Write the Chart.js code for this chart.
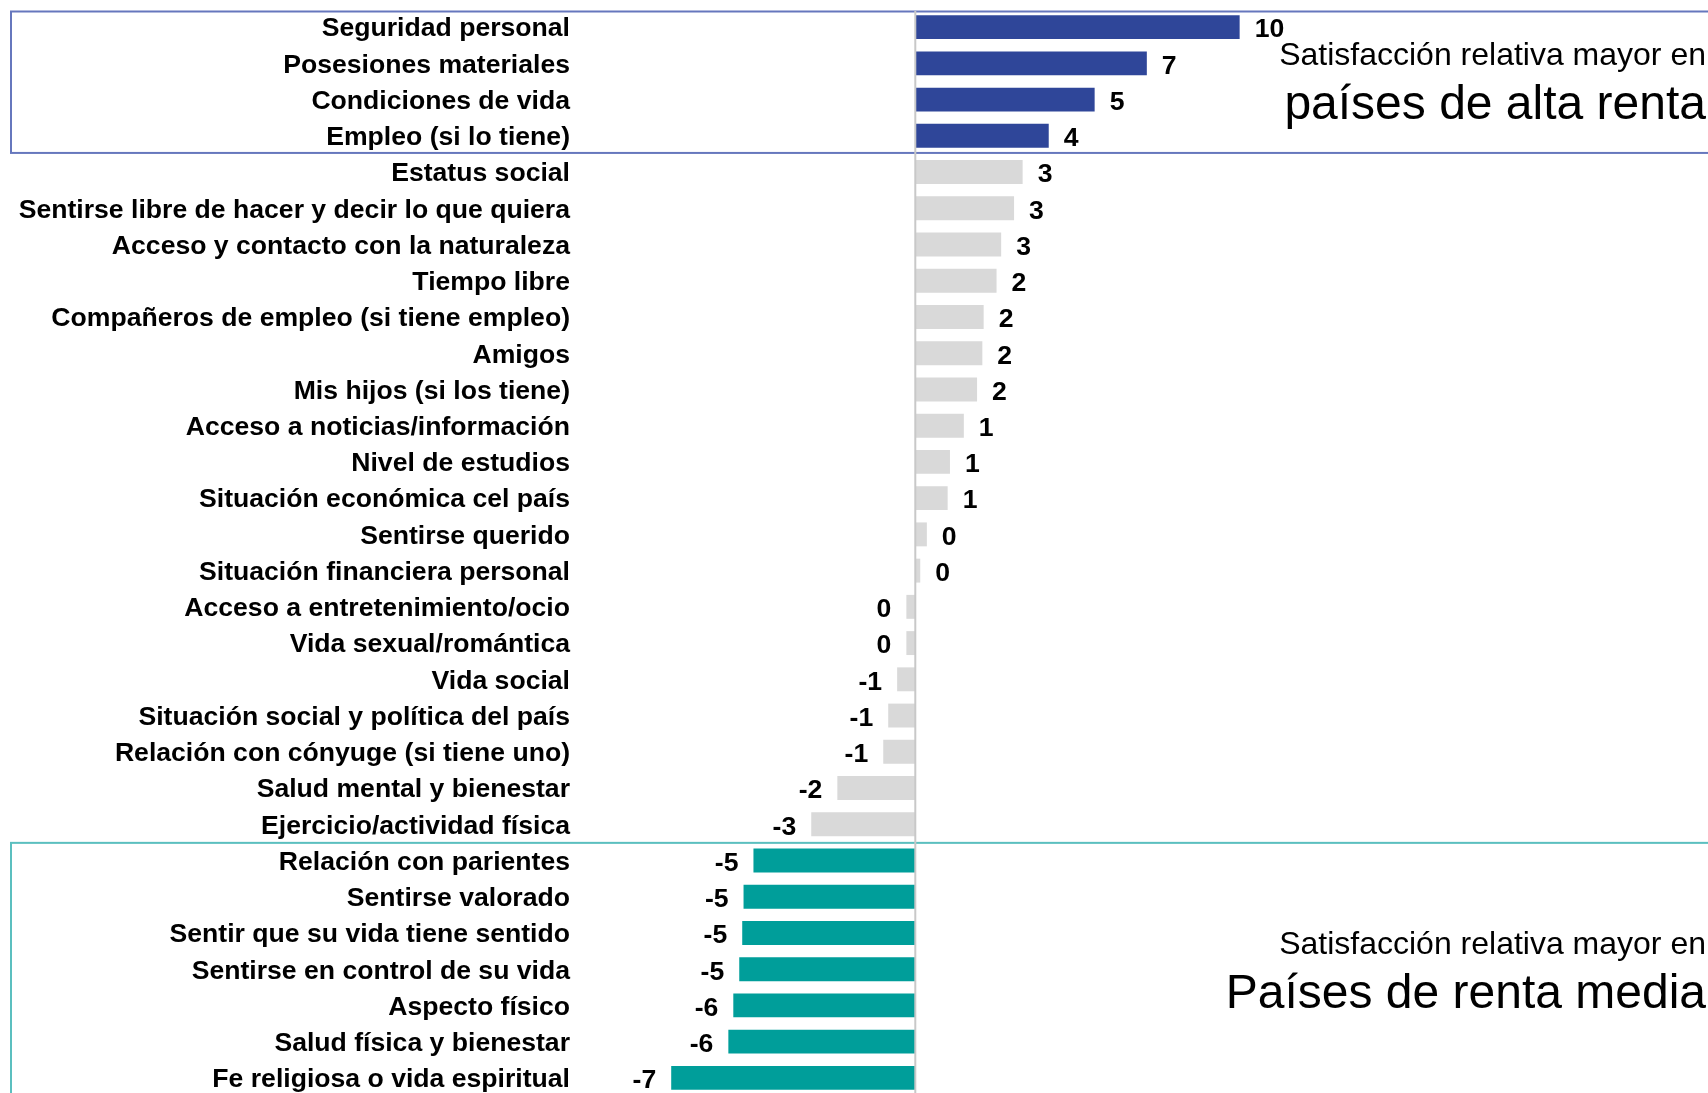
<!DOCTYPE html>
<html>
<head>
<meta charset="utf-8">
<script src="https://cdn.jsdelivr.net/npm/chart.js@4.4.1/dist/chart.umd.min.js"></script>
<style>
  html, body { margin: 0; padding: 0; background: #fff; overflow: hidden; }
  canvas { display: block; }
</style>
</head>
<body>
<canvas id="grafico" width="1708" height="1096"></canvas>
<script>
const categorias = [
    "Seguridad personal",
    "Posesiones materiales",
    "Condiciones de vida",
    "Empleo (si lo tiene)",
    "Estatus social",
    "Sentirse libre de hacer y decir lo que quiera",
    "Acceso y contacto con la naturaleza",
    "Tiempo libre",
    "Compañeros de empleo (si tiene empleo)",
    "Amigos",
    "Mis hijos (si los tiene)",
    "Acceso a noticias/información",
    "Nivel de estudios",
    "Situación económica cel país",
    "Sentirse querido",
    "Situación financiera personal",
    "Acceso a entretenimiento/ocio",
    "Vida sexual/romántica",
    "Vida social",
    "Situación social y política del país",
    "Relación con cónyuge (si tiene uno)",
    "Salud mental y bienestar",
    "Ejercicio/actividad física",
    "Relación con parientes",
    "Sentirse valorado",
    "Sentir que su vida tiene sentido",
    "Sentirse en control de su vida",
    "Aspecto físico",
    "Salud física y bienestar",
    "Fe religiosa o vida espiritual"
];

const valores = [
    9.82, 7.01, 5.43, 4.04,
    3.25, 2.99, 2.6, 2.46, 2.07, 2.03, 1.87, 1.47, 1.05, 0.98, 0.35, 0.15,
    -0.27, -0.27, -0.55, -0.82, -0.97, -2.36, -3.15,
    -4.9, -5.2, -5.24, -5.33, -5.51, -5.66, -7.39
];

// grupo de cada fila: alta renta, neutro, renta media
const grupos = [
    "alta", "alta", "alta", "alta",
    "neutro", "neutro", "neutro", "neutro", "neutro", "neutro", "neutro", "neutro",
    "neutro", "neutro", "neutro", "neutro", "neutro", "neutro", "neutro", "neutro",
    "neutro", "neutro", "neutro",
    "media", "media", "media", "media", "media", "media", "media"
];

const textoAlta = ["Satisfacción relativa mayor en", "países de alta renta"];
const textoMedia = ["Satisfacción relativa mayor en", "Países de renta media"];

const colores = { alta: "#2f4699", neutro: "#d9d9d9", media: "#009e9a" };
const fuente = '"Liberation Sans", Arial, sans-serif';

const bordeCaja = (chart, grupo, color, extra) => {
    const ctx = chart.ctx;
    const y = chart.scales.y;
    const paso = y.getPixelForValue(1) - y.getPixelForValue(0);
    const primero = grupos.indexOf(grupo);
    const ultimo = grupos.lastIndexOf(grupo);
    const arriba = y.getPixelForValue(primero) - paso / 2 + extra.top;
    const abajo = y.getPixelForValue(ultimo) + paso / 2 + extra.bottom;
    ctx.save();
    ctx.strokeStyle = color;
    ctx.lineWidth = 2;
    ctx.strokeRect(11, arriba, chart.width + 20, abajo - arriba);
    ctx.restore();
};

const cajas = {
    id: "cajas",
    beforeDatasetsDraw(chart) {
        bordeCaja(chart, "alta", "#6677bd", { top: 2.5, bottom: -1 });
        bordeCaja(chart, "media", "#5bbfbf", { top: 0.5, bottom: 40 });
    }
};

const lineaCero = {
    id: "lineaCero",
    afterDatasetsDraw(chart) {
        const ctx = chart.ctx;
        const x = chart.scales.x.getPixelForValue(0);
        ctx.save();
        ctx.strokeStyle = "#c8c8c8";
        ctx.lineWidth = 2;
        ctx.beginPath();
        ctx.moveTo(x, chart.chartArea.top + 2);
        ctx.lineTo(x, chart.height);
        ctx.stroke();
        ctx.restore();
    }
};

const etiquetas = {
    id: "etiquetas",
    afterDatasetsDraw(chart) {
        const ctx = chart.ctx;
        const barras = chart.getDatasetMeta(0).data;
        ctx.save();
        ctx.font = "bold 26.6px " + fuente;
        ctx.fillStyle = "#000";
        ctx.textBaseline = "middle";
        barras.forEach((barra, i) => {
            const v = valores[i];
            const texto = Math.round(v).toFixed(0);
            if (v >= 0) {
                ctx.textAlign = "left";
                ctx.fillText(texto, barra.x + 15, barra.y + 3);
            } else {
                ctx.textAlign = "right";
                ctx.fillText(texto, barra.x - 15, barra.y + 3);
            }
        });
        ctx.restore();
    }
};

const notas = {
    id: "notas",
    afterDraw(chart) {
        const ctx = chart.ctx;
        const derecha = chart.width - 2;
        ctx.save();
        ctx.fillStyle = "#000";
        ctx.textAlign = "right";
        ctx.textBaseline = "alphabetic";
        ctx.font = "32px " + fuente;
        ctx.fillText(textoAlta[0], derecha, 65);
        ctx.fillText(textoMedia[0], derecha, 954);
        ctx.font = "48px " + fuente;
        ctx.fillText(textoAlta[1], derecha, 119);
        ctx.fillText(textoMedia[1], derecha, 1008);
        ctx.restore();
    }
};

const config = {
    type: "bar",
    data: {
        labels: categorias,
        datasets: [
            {
                data: valores,
                backgroundColor: grupos.map((g) => colores[g]),
                borderWidth: 0,
                barPercentage: 0.66,
                categoryPercentage: 1
            }
        ]
    },
    options: {
        indexAxis: "y",
        responsive: false,
        animation: false,
        devicePixelRatio: 1,
        layout: { padding: { top: 9, left: 19, right: 0, bottom: 0 } },
        plugins: {
            legend: { display: false },
            tooltip: { enabled: false }
        },
        scales: {
            x: {
                display: false,
                min: -10,
                max: 24
            },
            y: {
                grid: { display: false, drawTicks: false },
                border: { display: false },
                ticks: {
                    autoSkip: false,
                    padding: 15,
                    labelOffset: 2,
                    color: "#000",
                    font: { family: fuente, size: 26.6, weight: "bold" }
                },
                afterFit: (scale) => {
                    scale.width = 566;
                    scale.paddingTop = 0;
                    scale.paddingBottom = 0;
                }
            }
        }
    },
    plugins: [cajas, lineaCero, etiquetas, notas]
};

const grafico = new Chart(document.getElementById("grafico"), config);
</script>
</body>
</html>
